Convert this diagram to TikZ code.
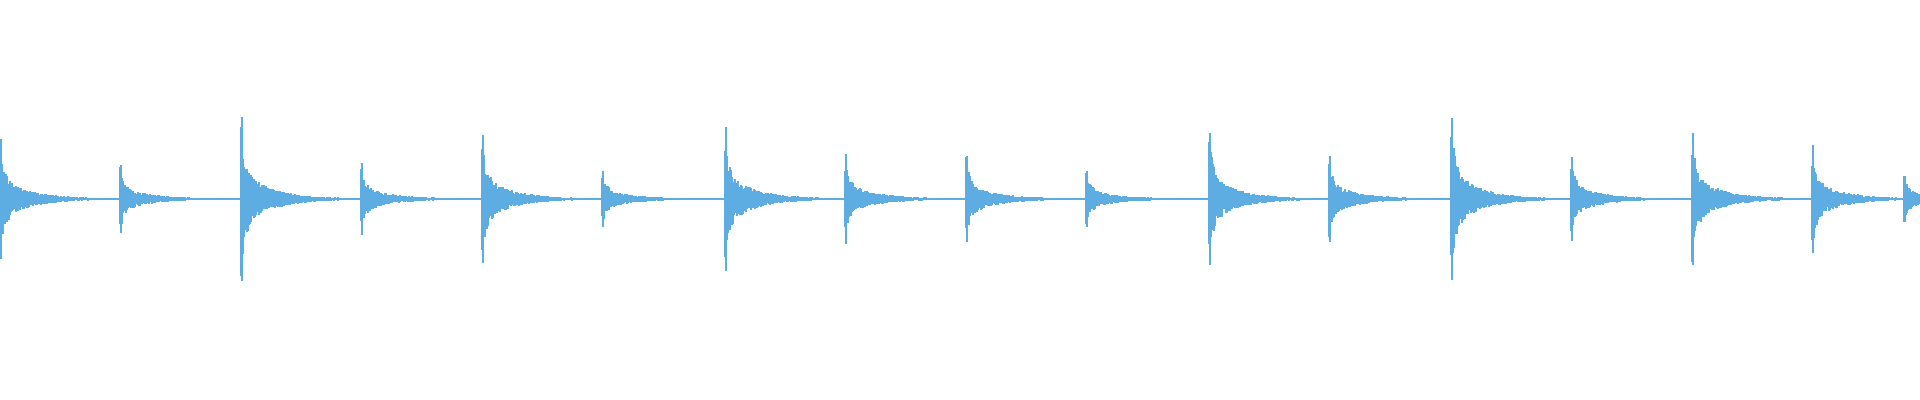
\documentclass[tikz,border=0pt]{standalone}
\usepackage{tikz}
\definecolor{waveblue}{RGB}{93,173,226}
\begin{document}
\begin{tikzpicture}[
    x=0.01cm, y=-0.01cm,
    wave/.style={draw=waveblue, line width=0.32pt},
    baseline/.style={draw=waveblue, line width=0.4pt}
]
\useasboundingbox (0,0) rectangle (1920,400);
\clip (0,0) rectangle (1920,400);
% Silent baseline
\draw[baseline] (0,199) -- (1920,199);
% Drum hits: start position / peak amplitude
\foreach \bx/\amp [count=\i] in {0/60,120/34,241/82,361/36,482/64,602/28,725/72,845/45,
    966/43,1086/28,1209/66,1329/43,1451/81,1571/42,1692/66,1812/54,1904/23}{
  \pgfmathsetseed{\i*7+3}
  \draw[wave] (\bx+1,199-\amp) -- (\bx+1,199+\amp);
  \foreach \t in {0,2,3,...,100}{
    \pgfmathsetmacro\env{\amp*(0.6*exp(-\t/4)+0.38*exp(-\t/28))+0.6}
    \pgfmathsetmacro\up{\env*(0.6+0.4*rnd)}
    \pgfmathsetmacro\dn{\env*(0.6+0.4*rnd)}
    \draw[wave] (\bx+\t,199-\up) -- (\bx+\t,199+\dn);
  }
}
\end{tikzpicture}
\end{document}
